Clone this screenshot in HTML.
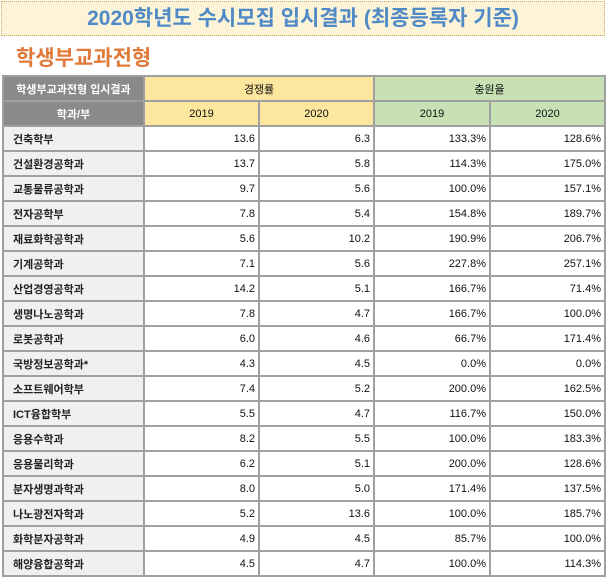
<!DOCTYPE html>
<html><head><meta charset="utf-8"><style>
body{margin:0;width:606px;height:579px;background:#fff;font-family:"Liberation Sans","Noto Sans CJK KR",sans-serif;position:relative;overflow:hidden}
.title{position:absolute;left:1px;top:1px;width:602px;height:33px;background:#fdf3d6;border:1px dotted #c9a860;color:#4f8ac6;font-weight:bold;font-size:21px;text-align:center;line-height:33px}
.sub{position:absolute;left:16px;top:42px;color:#e07a3a;font-weight:bold;font-size:21px}
table{position:absolute;left:2px;top:75px;border-collapse:collapse;table-layout:fixed;font-size:11px;color:#111}
td{border:2px solid #a0a0a0;padding:0 3px;height:23px;text-align:right}
td.l{text-align:left;background:#f0f0f0;padding-left:9px;font-weight:bold;color:#222}
.g{background:#8a8a8a;color:#fff;text-align:center;font-weight:bold}
.y{background:#fde69d;text-align:center}
.gr{background:#c7e0b4;text-align:center}
</style></head><body>
<div class="title">2020학년도 수시모집 입시결과 (최종등록자 기준)</div>
<div class="sub">학생부교과전형</div>
<table>
<colgroup><col style="width:141px"><col style="width:115px"><col style="width:115px"><col style="width:116px"><col style="width:115px"></colgroup>
<tr><td class="g" style="height:23px">학생부교과전형 입시결과</td><td class="y" colspan="2">경쟁률</td><td class="gr" colspan="2">충원율</td></tr>
<tr><td class="g" style="height:21px">학과/부</td><td class="y">2019</td><td class="y">2020</td><td class="gr">2019</td><td class="gr">2020</td></tr>
<tr><td class="l">건축학부</td><td>13.6</td><td>6.3</td><td>133.3%</td><td>128.6%</td></tr>
<tr><td class="l">건설환경공학과</td><td>13.7</td><td>5.8</td><td>114.3%</td><td>175.0%</td></tr>
<tr><td class="l">교통물류공학과</td><td>9.7</td><td>5.6</td><td>100.0%</td><td>157.1%</td></tr>
<tr><td class="l">전자공학부</td><td>7.8</td><td>5.4</td><td>154.8%</td><td>189.7%</td></tr>
<tr><td class="l">재료화학공학과</td><td>5.6</td><td>10.2</td><td>190.9%</td><td>206.7%</td></tr>
<tr><td class="l">기계공학과</td><td>7.1</td><td>5.6</td><td>227.8%</td><td>257.1%</td></tr>
<tr><td class="l">산업경영공학과</td><td>14.2</td><td>5.1</td><td>166.7%</td><td>71.4%</td></tr>
<tr><td class="l">생명나노공학과</td><td>7.8</td><td>4.7</td><td>166.7%</td><td>100.0%</td></tr>
<tr><td class="l">로봇공학과</td><td>6.0</td><td>4.6</td><td>66.7%</td><td>171.4%</td></tr>
<tr><td class="l">국방정보공학과*</td><td>4.3</td><td>4.5</td><td>0.0%</td><td>0.0%</td></tr>
<tr><td class="l">소프트웨어학부</td><td>7.4</td><td>5.2</td><td>200.0%</td><td>162.5%</td></tr>
<tr><td class="l">ICT융합학부</td><td>5.5</td><td>4.7</td><td>116.7%</td><td>150.0%</td></tr>
<tr><td class="l">응용수학과</td><td>8.2</td><td>5.5</td><td>100.0%</td><td>183.3%</td></tr>
<tr><td class="l">응용물리학과</td><td>6.2</td><td>5.1</td><td>200.0%</td><td>128.6%</td></tr>
<tr><td class="l">분자생명과학과</td><td>8.0</td><td>5.0</td><td>171.4%</td><td>137.5%</td></tr>
<tr><td class="l">나노광전자학과</td><td>5.2</td><td>13.6</td><td>100.0%</td><td>185.7%</td></tr>
<tr><td class="l">화학분자공학과</td><td>4.9</td><td>4.5</td><td>85.7%</td><td>100.0%</td></tr>
<tr><td class="l">해양융합공학과</td><td>4.5</td><td>4.7</td><td>100.0%</td><td>114.3%</td></tr>
</table>
</body></html>
